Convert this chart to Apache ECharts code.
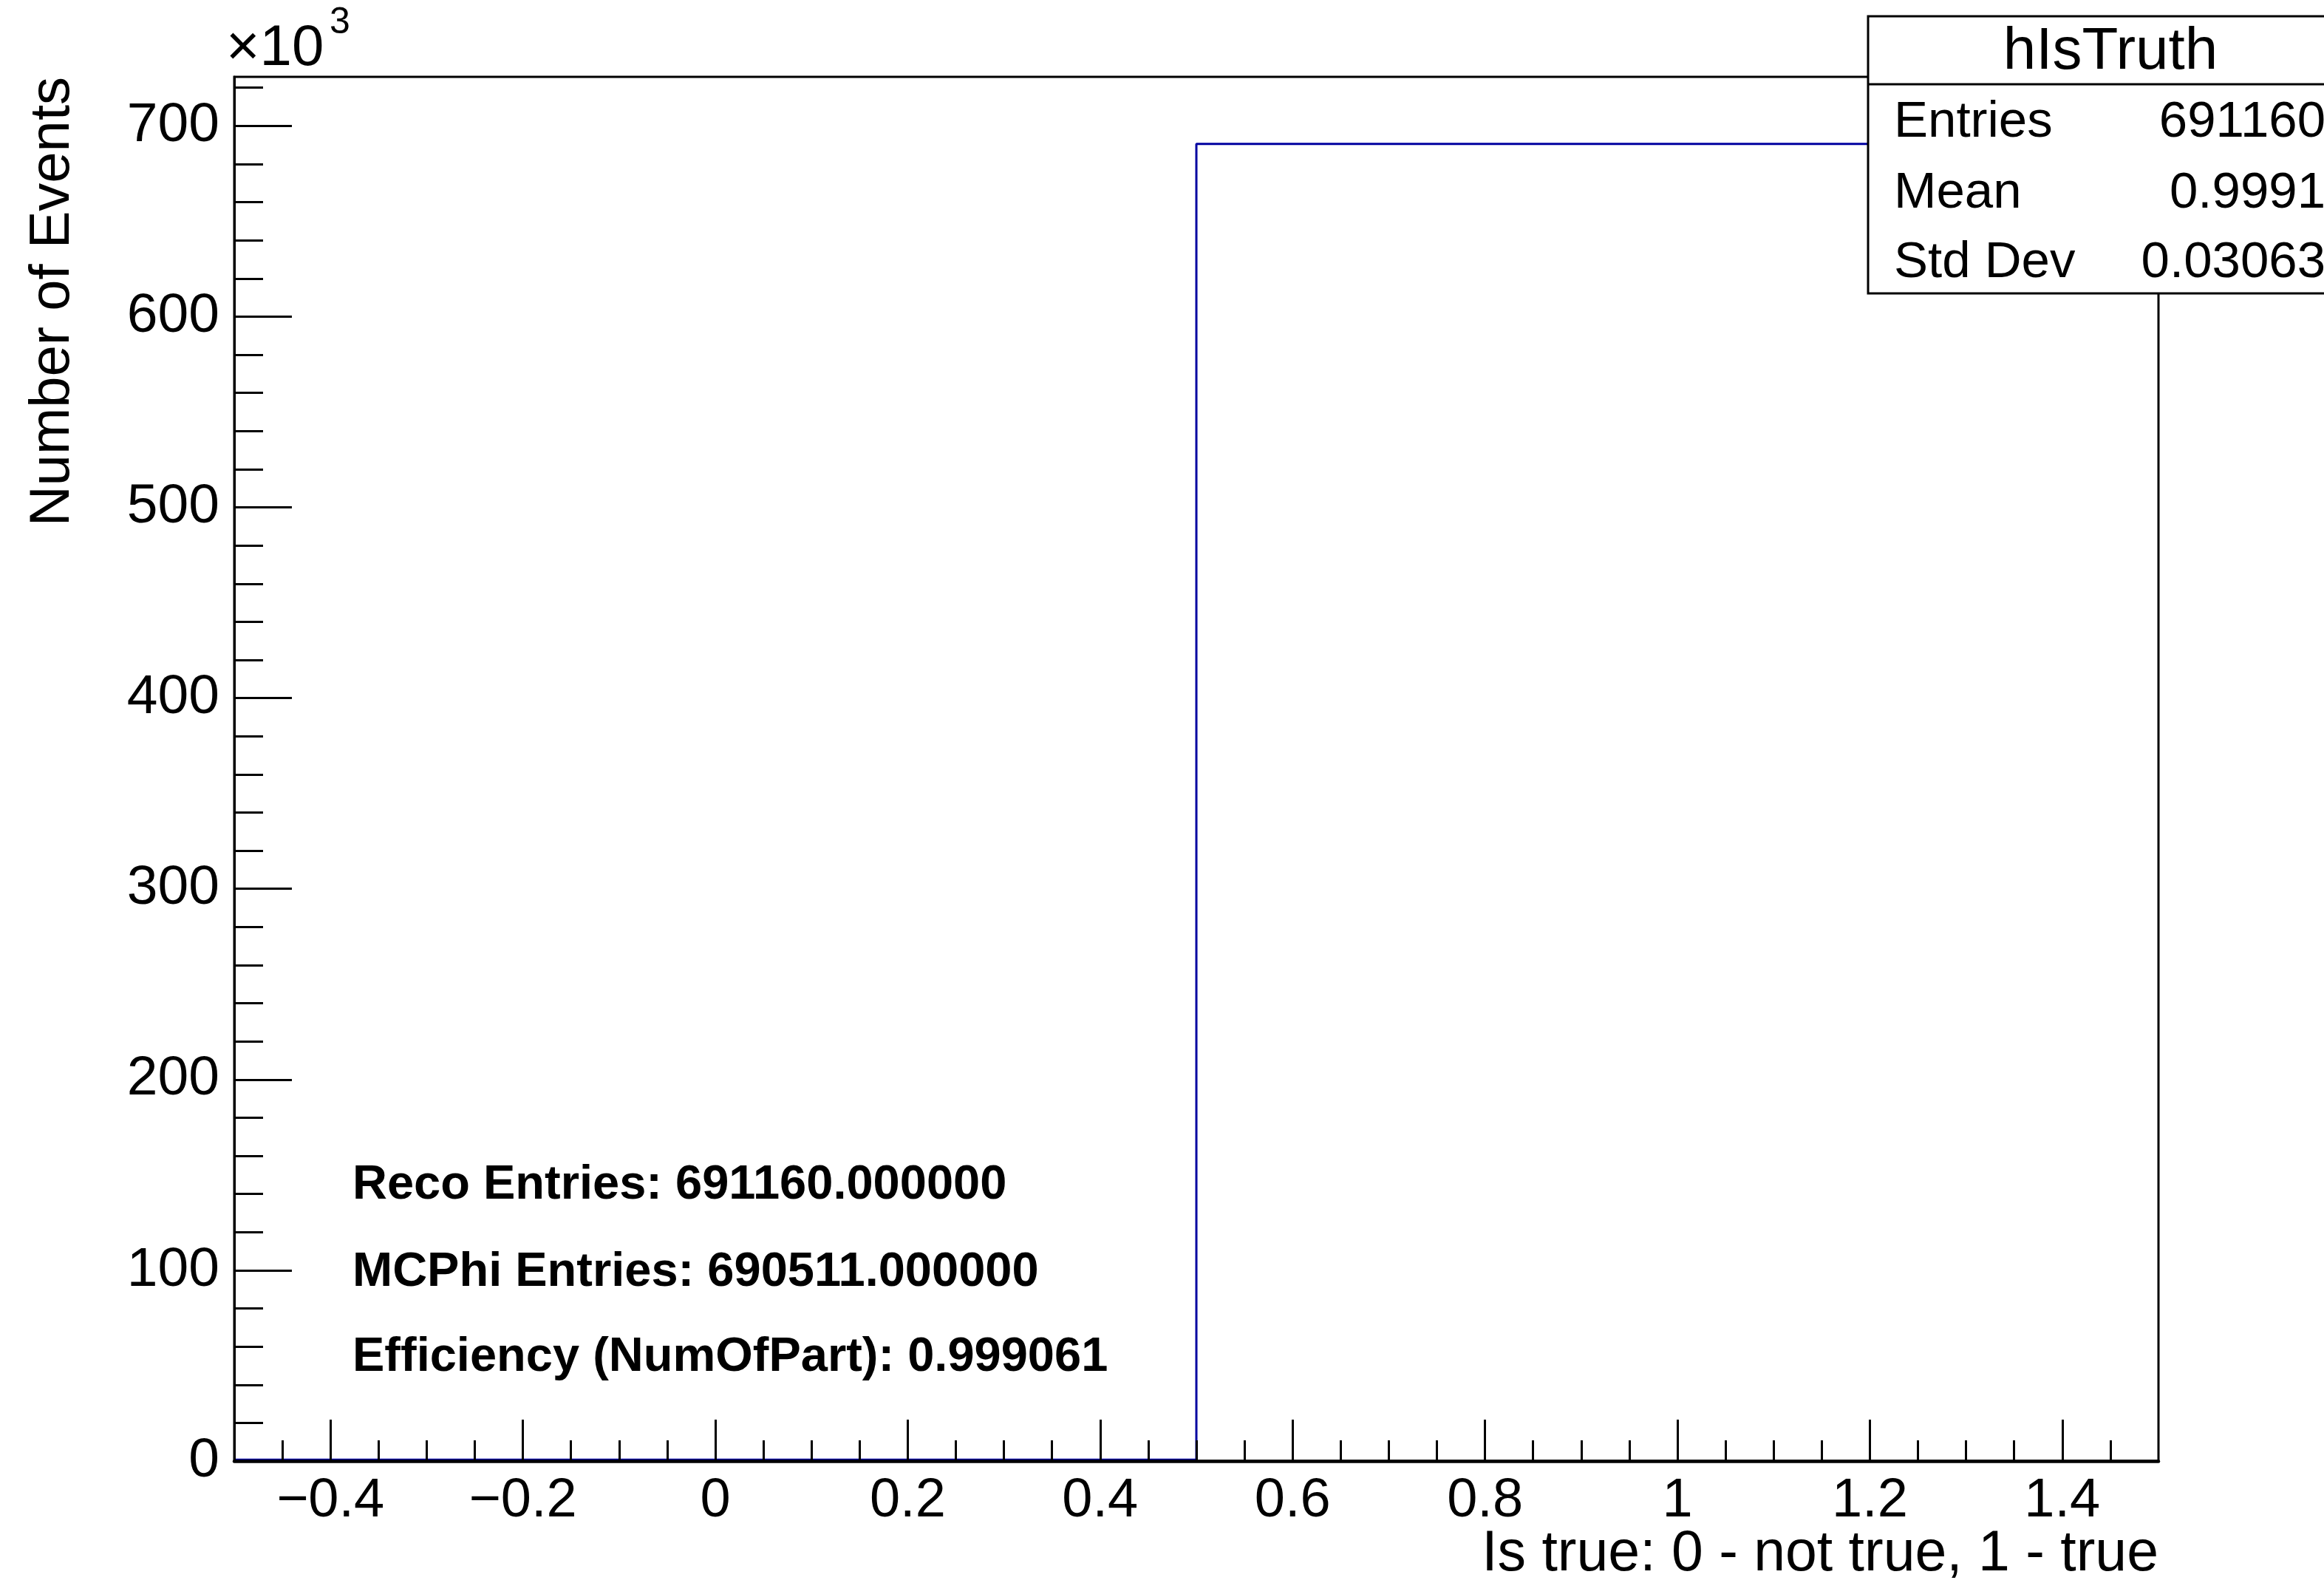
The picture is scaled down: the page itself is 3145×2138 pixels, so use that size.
<!DOCTYPE html>
<html>
<head>
<meta charset="utf-8">
<script src="https://cdn.jsdelivr.net/npm/echarts@6/dist/echarts.min.js"></script>
<style>
html,body{margin:0;padding:0;background:#fff;}
#c{width:3145px;height:2138px;}
</style>
</head>
<body>
<div id="c"></div>
<script>
// ---- data ----
const binEdges = [-0.5, 0.5, 1.5];
const binCounts = [649, 690511];
const xMin = -0.5, xMax = 1.5;
const yMin = 0, yMax = 725700;
const xMajorTicks = [-0.4, -0.2, 0, 0.2, 0.4, 0.6, 0.8, 1, 1.2, 1.4];
const xMinorTicks = [-0.45, -0.35, -0.3, -0.25, -0.15, -0.1, -0.05, 0.05, 0.1, 0.15, 0.25, 0.3, 0.35, 0.45,
  0.5, 0.55, 0.65, 0.7, 0.75, 0.85, 0.9, 0.95, 1.05, 1.1, 1.15, 1.25, 1.3, 1.35, 1.45];
const yMajorTicks = [0, 100000, 200000, 300000, 400000, 500000, 600000, 700000];
const yMinorTicks = [20000, 40000, 60000, 80000, 120000, 140000, 160000, 180000, 220000, 240000, 260000, 280000,
  320000, 340000, 360000, 380000, 420000, 440000, 460000, 480000, 520000, 540000, 560000, 580000,
  620000, 640000, 660000, 680000, 720000];
const xTitle = 'Is true: 0 - not true, 1 - true';
const yTitle = 'Number of Events';
const yExponent = '3';
const statsTitle = 'hIsTruth';
const statsLabels = ['Entries', 'Mean', 'Std Dev'];
const statsValues = ['691160', '0.9991', '0.03063'];
const annotations = ['Reco Entries: 691160.000000', 'MCPhi Entries: 690511.000000', 'Efficiency (NumOfPart): 0.999061'];

// ---- build histogram outline from bins ----
const histPath = [];
for (let i = 0; i < binCounts.length; i++) {
  histPath.push([binEdges[i], binCounts[i]]);
  histPath.push([binEdges[i + 1], binCounts[i]]);
}

const FONT = "'Liberation Sans', Arial, Helvetica, sans-serif";
const G = { left: 317, right: 224, top: 104, bottom: 161 };
const W = 3145, H = 2138;
const frameRight = W - G.right;

function fmtX(v) {
  const s = String(Number(v.toFixed(2)));
  return s.replace('-', '\u2212');
}

const chart = echarts.init(document.getElementById('c'), null, { renderer: 'canvas' });

function txt(x, y, text, font, align, extra) {
  return Object.assign({
    type: 'text', x: x, y: y, z: 100,
    style: { text: text, font: font, fill: '#000', align: align, textAlign: align, verticalAlign: 'middle', textVerticalAlign: 'middle' }
  }, extra || {});
}

const graphics = [];
graphics.push(txt(72, G.top, yTitle, '76px ' + FONT, 'right', { rotation: Math.PI / 2 }));
graphics.push(txt(frameRight, 2104, xTitle, '77px ' + FONT, 'right'));
graphics.push(txt(306, 66, '\u00d710', '78px ' + FONT, 'left'));
graphics.push(txt(446, 31, yExponent, '50px ' + FONT, 'left'));
// stats box
graphics.push({
  type: 'rect', z: 100, shape: { x: 2528, y: 22, width: 700, height: 375 },
  style: { fill: '#fff', stroke: '#000', lineWidth: 3 }
});
graphics.push({
  type: 'line', z: 101, shape: { x1: 2528, y1: 114, x2: 3200, y2: 114 },
  style: { stroke: '#000', lineWidth: 3 }
});
graphics.push(txt(2856, 71, statsTitle, '80px ' + FONT, 'center', { z: 102 }));
const rowY = [166, 262, 356];
for (let i = 0; i < statsLabels.length; i++) {
  graphics.push(txt(2563, rowY[i], statsLabels[i], '69px ' + FONT, 'left', { z: 102 }));
  graphics.push(txt(3147, rowY[i], statsValues[i], '69px ' + FONT, 'right', { z: 102 }));
}
const annY = [1604, 1722, 1837];
for (let i = 0; i < annotations.length; i++) {
  graphics.push(txt(477, annY[i], annotations[i], 'bold 65px ' + FONT, 'left'));
}

chart.setOption({
  animation: false,
  backgroundColor: '#fff',
  grid: { left: G.left, right: G.right, top: G.top, bottom: G.bottom, show: true, borderColor: '#000', borderWidth: 3, backgroundColor: 'transparent', containLabel: false },
  xAxis: [
    {
      type: 'value', min: xMin, max: xMax, position: 'bottom', z: 5,
      axisLine: { show: true, onZero: false, lineStyle: { color: '#000', width: 4.5 } },
      axisTick: { show: true, inside: true, length: 56, customValues: xMajorTicks, lineStyle: { color: '#000', width: 3 } },
      axisLabel: { show: true, customValues: xMajorTicks, margin: 18, fontSize: 74, fontFamily: FONT, color: '#000', formatter: fmtX },
      splitLine: { show: false }
    },
    {
      type: 'value', min: xMin, max: xMax, position: 'bottom', z: 5,
      axisLine: { show: false, onZero: false },
      axisTick: { show: true, inside: true, length: 28, customValues: xMinorTicks, lineStyle: { color: '#000', width: 3 } },
      axisLabel: { show: false },
      splitLine: { show: false }
    }
  ],
  yAxis: [
    {
      type: 'value', min: yMin, max: yMax, position: 'left', z: 5,
      axisLine: { show: true, onZero: false, lineStyle: { color: '#000', width: 3 } },
      axisTick: { show: true, inside: true, length: 78, customValues: yMajorTicks, lineStyle: { color: '#000', width: 3 } },
      axisLabel: { show: true, customValues: yMajorTicks, margin: 20, fontSize: 75, fontFamily: FONT, color: '#000', formatter: v => String(Math.round(v / 1000)) },
      splitLine: { show: false }
    },
    {
      type: 'value', min: yMin, max: yMax, position: 'left', z: 5,
      axisLine: { show: false, onZero: false },
      axisTick: { show: true, inside: true, length: 39, customValues: yMinorTicks, lineStyle: { color: '#000', width: 3 } },
      axisLabel: { show: false },
      splitLine: { show: false }
    }
  ],
  series: [
    {
      type: 'line', xAxisIndex: 0, yAxisIndex: 0, data: histPath, z: 1,
      showSymbol: false, symbol: 'none', silent: true, clip: true,
      lineStyle: { color: '#0000a0', width: 3 }
    }
  ],
  graphic: graphics
});
</script>
</body>
</html>
